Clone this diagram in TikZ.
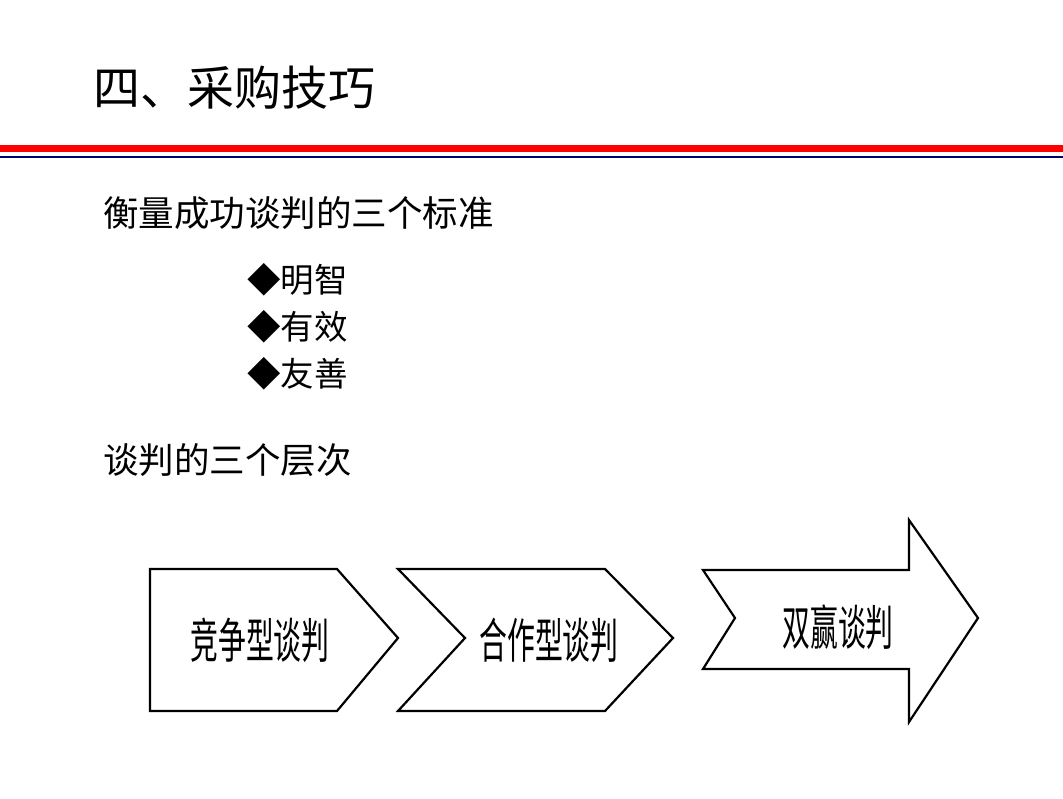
\documentclass[tikz,border=0pt]{standalone}
\usepackage{fontspec}
\setmainfont{Noto Sans CJK SC}
\newfontfamily\cjk{Noto Sans CJK SC}
\begin{document}
\begin{tikzpicture}[x=1pt,y=-1pt,
  shapeline/.style={draw=black,line width=2.2pt,fill=white,line join=miter},
  lbl/.style={inner sep=0pt,font=\cjk\fontsize{48}{48}\selectfont,xscale=0.58},
  body/.style={inner sep=0pt,anchor=west,text=black}]
\useasboundingbox (0,0) rectangle (1063,798);
\fill[white] (0,0) rectangle (1063,798);
% header bands
\fill[red] (0,145) rectangle (1063,152);
\fill[blue!45!black] (0,155.5) rectangle (1063,158);
% title
\node[body,font=\cjk\fontsize{47}{47}\selectfont] (title) at (93,88) {四、采购技巧};
% texts
\node[body,font=\cjk\fontsize{35.5}{35.5}\selectfont] (crit) at (103,213) {衡量成功谈判的三个标准};
\node[body,font=\cjk\fontsize{33.5}{33.5}\selectfont] (b1) at (247,280) {◆明智};
\node[body,font=\cjk\fontsize{33.5}{33.5}\selectfont] (b2) at (247,327) {◆有效};
\node[body,font=\cjk\fontsize{33.5}{33.5}\selectfont] (b3) at (247,374) {◆友善};
\node[body,font=\cjk\fontsize{35.5}{35.5}\selectfont] (lvl) at (103,460) {谈判的三个层次};
% shape 1
\draw[shapeline] (150,569) -- (337,569) -- (398,638) -- (337,711) -- (150,711) -- cycle;
% shape 2
\draw[shapeline] (398,569) -- (605,569) -- (673,638) -- (605,711) -- (398,711) -- (465,638) -- cycle;
% shape 3
\draw[shapeline] (703,570) -- (909,570) -- (909,520) -- (978,618) -- (909,722) -- (909,669) -- (703,669) -- (735,618) -- cycle;
% labels
\node[lbl] (s1) at (260,640) {竞争型谈判};
\node[lbl] (s2) at (549,640) {合作型谈判};
\node[lbl] (s3) at (838,627) {双赢谈判};
\end{tikzpicture}
\end{document}
